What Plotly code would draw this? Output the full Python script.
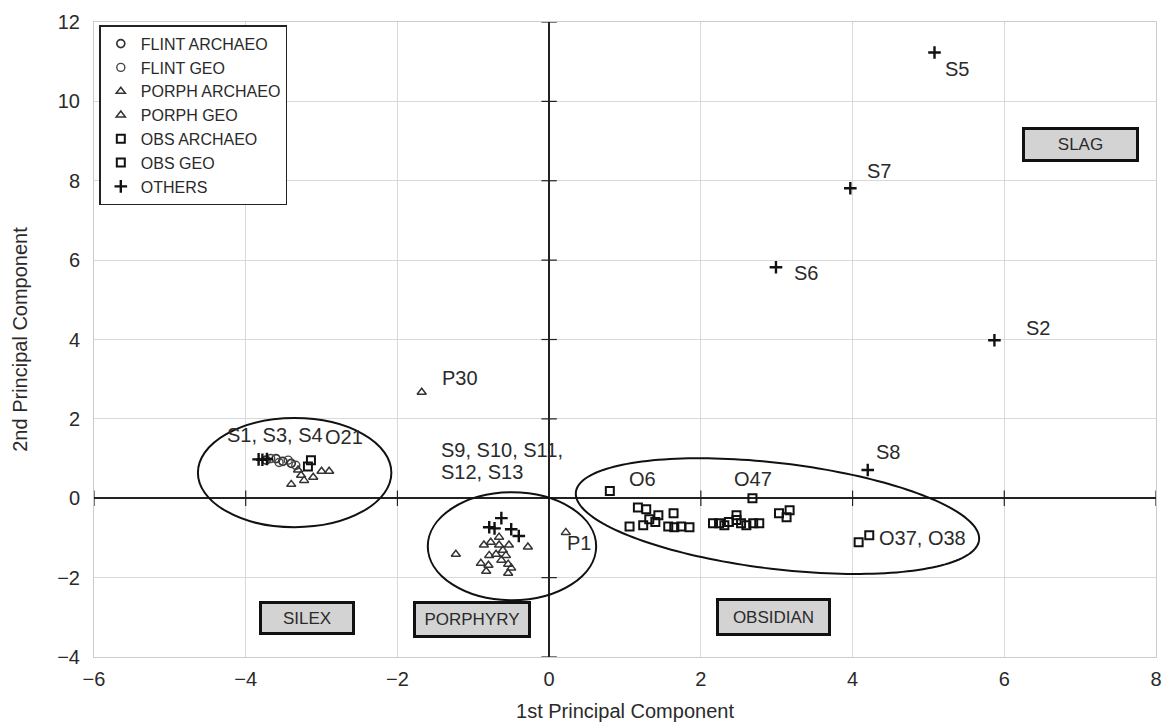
import numpy as np
import plotly.graph_objects as go

# ---------------- data ----------------
flint_arch_x = [-3.73, -3.60, -3.51, -3.40]
flint_arch_y = [0.96, 1.00, 0.93, 0.88]
flint_geo_x = [-3.67, -3.56, -3.44, -3.34]
flint_geo_y = [1.00, 0.90, 0.96, 0.83]

porph_arch_x = [-3.40, -3.27, -3.11, -3.00, -2.90, -3.23, -3.31,
                -1.68, 0.22, -1.23, -0.28, -0.86, -0.77, -0.66, -0.66]
porph_arch_y = [0.35, 0.58, 0.53, 0.68, 0.68, 0.45, 0.71,
                2.67, -0.86, -1.41, -1.23, -1.18, -1.11, -0.98, -1.18]
porph_geo_x = [-0.53, -0.79, -0.70, -0.57, -0.61, -0.90, -0.80, -0.63,
               -0.54, -0.83, -0.54, -0.50]
porph_geo_y = [-1.18, -1.44, -1.41, -1.44, -1.31, -1.64, -1.69, -1.56,
               -1.66, -1.84, -1.89, -1.76]

obs_arch_x = [-3.14, 0.80, 1.17, 1.28, 1.44, 1.64, 1.06, 1.24, 1.40, 1.32,
              2.68, 3.03, 3.17, 3.13, 4.08, 4.22]
obs_arch_y = [0.96, 0.18, -0.23, -0.28, -0.43, -0.38, -0.71, -0.68, -0.60, -0.53,
              0.00, -0.38, -0.30, -0.48, -1.11, -0.93]
obs_geo_x = [-3.18, 1.57, 1.65, 1.74, 1.85, 2.16, 2.24, 2.31, 2.37, 2.47, 2.47,
             2.53, 2.60, 2.69, 2.77]
obs_geo_y = [0.80, -0.71, -0.73, -0.71, -0.73, -0.63, -0.63, -0.68, -0.60, -0.43,
             -0.55, -0.63, -0.68, -0.63, -0.63]

others_x = [-3.83, -3.78, -3.72, -0.63, -0.79, -0.72, -0.50, -0.40,
            5.08, 3.97, 2.99, 5.87, 4.20]
others_y = [0.98, 0.97, 0.99, -0.50, -0.73, -0.76, -0.78, -0.95,
            11.23, 7.81, 5.82, 3.98, 0.71]

point_labels = ["S5", "S7", "S6", "S2", "S8", "P30", "P1", "S1, S3, S4", "O21",
                "S9, S10, S11,", "S12, S13", "O6", "O47", "O37, O38"]
label_x = [5.21, 4.18, 3.22, 6.27, 4.29, -1.42, 0.22, -4.26, -2.97,
           -1.44, -1.44, 1.04, 2.43, 4.34]
label_y = [10.81, 8.24, 5.67, 4.28, 1.16, 3.02, -1.13, 1.59, 1.54,
           1.21, 0.65, 0.48, 0.48, -1.01]

group_names = ["SLAG", "SILEX", "PORPHYRY", "OBSIDIAN"]
group_x = [7.0, -3.19, -1.02, 2.96]
group_y = [8.92, -3.02, -3.05, -2.98]
group_w = [105, 84, 106, 103]
group_h = [23, 22, 25, 26]

x_ticks = [-6, -4, -2, 0, 2, 4, 6, 8]
y_ticks = [-4, -2, 0, 2, 4, 6, 8, 10, 12]

# ellipse outlines (data units)
silex_ell = dict(x0=-4.63, x1=-2.08, y0=-0.73, y1=2.02)
porph_ell = dict(x0=-1.60, x1=0.62, y0=-2.57, y1=0.15)
obs_center = (3.01, -0.45)
obs_semi_px = (203, 53)       # semi axes in screen pixels
obs_angle_deg = 6.8           # tilt (down to the right)

# ---------------- layout geometry ----------------
W, H = 1162, 722
ML, MR, MT, MB = 94, 6, 22, 65
px_per_x = (W - ML - MR) / (x_ticks[-1] - x_ticks[0])
px_per_y = (H - MT - MB) / (y_ticks[-1] - y_ticks[0])

TXT = "#2a2a2a"
FONT = "Liberation Sans, Arial, Helvetica, sans-serif"

fig = go.Figure()

def add_series(name, xs, ys, symbol, size, lw, color):
    fig.add_trace(go.Scatter(
        x=xs, y=ys, mode="markers", name=name,
        marker=dict(symbol=symbol, size=size, color=color,
                    line=dict(color=color, width=lw)),
    ))

add_series("FLINT ARCHAEO", flint_arch_x, flint_arch_y, "circle-open", 8, 1.7, "#333333")
add_series("FLINT GEO", flint_geo_x, flint_geo_y, "circle-open", 8, 1.4, "#444444")
add_series("PORPH ARCHAEO", porph_arch_x, porph_arch_y, "triangle-up-open", 8, 1.5, "#333333")
add_series("PORPH GEO", porph_geo_x, porph_geo_y, "triangle-up-open", 8, 1.5, "#333333")
add_series("OBS ARCHAEO", obs_arch_x, obs_arch_y, "square-open", 8, 2, "#111111")
add_series("OBS GEO", obs_geo_x, obs_geo_y, "square-open", 8, 2, "#111111")
add_series("OTHERS", others_x, others_y, "cross-thin-open", 9, 2.4, "#111111")

# tick marks across the zero lines
fig.add_trace(go.Scatter(
    x=x_ticks, y=[0] * len(x_ticks), mode="markers", showlegend=False, hoverinfo="skip",
    marker=dict(symbol="line-ns-open", size=11, color="#222222",
                line=dict(color="#222222", width=1.2)),
    cliponaxis=False))
fig.add_trace(go.Scatter(
    x=[0] * len(y_ticks), y=y_ticks, mode="markers", showlegend=False, hoverinfo="skip",
    marker=dict(symbol="line-ew-open", size=11, color="#222222",
                line=dict(color="#222222", width=1.2)),
    cliponaxis=False))

# ellipses
for e in (silex_ell, porph_ell):
    fig.add_shape(type="circle", xref="x", yref="y", line=dict(color="#111111", width=2),
                  **e)

t = np.linspace(0, 2 * np.pi, 181)
th = np.deg2rad(obs_angle_deg)
a, b = obs_semi_px
ex = obs_center[0] + (a * np.cos(t) * np.cos(th) - b * np.sin(t) * np.sin(th)) / px_per_x
ey = obs_center[1] - (a * np.cos(t) * np.sin(th) + b * np.sin(t) * np.cos(th)) / px_per_y
path = "M " + " L ".join(f"{xx:.4f},{yy:.4f}" for xx, yy in zip(ex, ey)) + " Z"
fig.add_shape(type="path", path=path, xref="x", yref="y",
              line=dict(color="#111111", width=2))

# point labels
for txt, lx, ly in zip(point_labels, label_x, label_y):
    fig.add_annotation(x=lx, y=ly, text=txt, showarrow=False, xanchor="left",
                       yanchor="middle", align="left", borderpad=0,
                       font=dict(family=FONT, size=20, color=TXT))

# group boxes
for txt, gx, gy, gw, gh in zip(group_names, group_x, group_y, group_w, group_h):
    fig.add_annotation(x=gx, y=gy, text=txt, showarrow=False, xanchor="center",
                       yanchor="middle", width=gw, height=gh, bgcolor="#d3d3d3",
                       bordercolor="#111111", borderwidth=3, borderpad=3,
                       font=dict(family=FONT, size=17, color=TXT))

fig.update_layout(
    width=W, height=H,
    margin=dict(l=ML, r=MR, t=MT, b=MB, autoexpand=False),
    paper_bgcolor="white", plot_bgcolor="white",
    font=dict(family=FONT, color=TXT, size=20),
    showlegend=True,
    legend=dict(x=0.005, y=0.995, xanchor="left", yanchor="top",
                bgcolor="white", bordercolor="#222222", borderwidth=1.5,
                font=dict(family=FONT, size=16, color=TXT), itemwidth=30,
                tracegroupgap=0),
    xaxis=dict(range=[x_ticks[0], x_ticks[-1]], tickvals=x_ticks,
               showgrid=True, gridcolor="#d9d9d9", gridwidth=1,
               zeroline=True, zerolinecolor="#222222", zerolinewidth=1.5,
               showline=True, mirror=True, linecolor="#cccccc", linewidth=1,
               ticks="", ticklabelstandoff=4, ticklabeloverflow="allow",
               tickfont=dict(size=20, color=TXT),
               title=dict(text="1st Principal Component", font=dict(size=20, color=TXT),
                          standoff=15)),
    yaxis=dict(range=[y_ticks[0], y_ticks[-1]], tickvals=y_ticks,
               showgrid=True, gridcolor="#d9d9d9", gridwidth=1,
               zeroline=True, zerolinecolor="#222222", zerolinewidth=1.5,
               showline=True, mirror=True, linecolor="#cccccc", linewidth=1,
               ticks="", ticklabelstandoff=9, ticklabeloverflow="allow",
               tickfont=dict(size=20, color=TXT),
               title=dict(text="2nd Principal Component", font=dict(size=20, color=TXT),
                          standoff=24)),
)

# remove the default page margin so the figure fills the window exactly
fig.write_html("out.html", config={"displayModeBar": False},
               post_script="document.body.style.margin='0';document.body.style.overflow='hidden';")
